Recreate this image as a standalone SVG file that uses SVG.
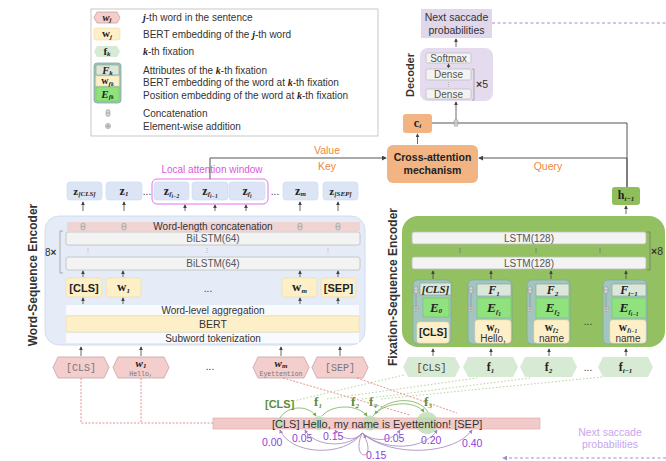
<svg xmlns="http://www.w3.org/2000/svg" width="666" height="461" viewBox="0 0 666 461" font-size="10">
<defs>
<style>
.t{font-family:"Liberation Sans",Arial,sans-serif;fill:#333}
.c{text-anchor:middle}
.b{font-weight:bold}
.m{font-family:"Liberation Serif","Times New Roman",serif;font-weight:bold;fill:#222}
.mi{font-family:"Liberation Serif","Times New Roman",serif;font-weight:bold;font-style:italic;fill:#222}
.s{font-size:7px;font-style:italic}
.ss{font-size:5.5px;font-style:italic}
.mono{font-family:"Liberation Mono","Courier New",monospace;fill:#777}
.arr{stroke:#444;stroke-width:0.8;fill:none;marker-end:url(#ah)}
.ln{stroke:#555;stroke-width:1;fill:none}
.bar{fill:#f3f3f3;stroke:#bdbdbd;stroke-width:0.8}
.yel{fill:#fdf0c9;stroke:#eadcaa;stroke-width:0.6}
.zb{fill:#dce5f5;stroke:#cdd9ee;stroke-width:0.6}
.ph{fill:#f4cdcd;stroke:#c6a3a3;stroke-width:0.8}
.gh{fill:#d7ead3}
.blk{fill:#a2c6bf;stroke:#7fa9a0;stroke-width:0.8}
.fb{fill:#dae7d9;stroke:#8a9a8a;stroke-width:0.6}
.eb{fill:#8fe27e;stroke:#6cbf5c;stroke-width:0.5}
.or{fill:#f2b482}
.pur{font-family:"Liberation Sans",Arial,sans-serif;fill:#8d3fd6}
.grn{fill:#5b8d35}
.ora{font-family:"Liberation Sans",Arial,sans-serif;fill:#f0883e}
.rd{stroke:#e37474;stroke-width:0.8;stroke-dasharray:2 1.5;fill:none}
.gd{stroke:#a9cf8e;stroke-width:0.9;stroke-dasharray:1.5 2;fill:none}
.pa{stroke:#a185bd;stroke-width:0.8;fill:none;marker-end:url(#ahp)}
.ga{stroke:#79ad58;stroke-width:0.8;fill:none;marker-end:url(#ahg)}
.pd{stroke:#a88cc6;stroke-width:1;stroke-dasharray:3 2.5;fill:none}
</style>
<marker id="ah" viewBox="0 0 6 6" refX="5" refY="3" markerWidth="4" markerHeight="4" markerUnits="userSpaceOnUse" orient="auto"><path d="M0,0 L6,3 L0,6 z" fill="#444"/></marker>
<marker id="ahb" viewBox="0 0 6 6" refX="5" refY="3" markerWidth="5" markerHeight="5" markerUnits="userSpaceOnUse" orient="auto"><path d="M0,0 L6,3 L0,6 z" fill="#444"/></marker>
<marker id="ahp" viewBox="0 0 6 6" refX="5" refY="3" markerWidth="4" markerHeight="4" markerUnits="userSpaceOnUse" orient="auto"><path d="M0,0 L6,3 L0,6 z" fill="#a185bd"/></marker>
<marker id="ahg" viewBox="0 0 6 6" refX="5" refY="3" markerWidth="4" markerHeight="4" markerUnits="userSpaceOnUse" orient="auto"><path d="M0,0 L6,3 L0,6 z" fill="#79ad58"/></marker>
<marker id="ahd" viewBox="0 0 6 6" refX="5" refY="3" markerWidth="5" markerHeight="5" markerUnits="userSpaceOnUse" orient="auto"><path d="M0,0 L6,3 L0,6 z" fill="#a88cc6"/></marker>
<g id="cat"><rect x="-2" y="-3.5" width="4" height="7" rx="2" fill="#d4d4d4" stroke="#888" stroke-width="0.5"/><line x1="-2" x2="2" y1="0" y2="0" stroke="#888" stroke-width="0.5"/></g>
<g id="add"><circle r="2.6" fill="#e4e4e4" stroke="#888" stroke-width="0.5"/><path d="M-2,0H2M0,-2V2" stroke="#777" stroke-width="0.6"/></g>
</defs>
<rect width="666" height="461" fill="#fff"/>

<!-- Legend -->
<g id="legend">
<rect x="91" y="9" width="287" height="127" fill="#fff" stroke="#bbb" stroke-width="0.8"/>
<polygon class="ph" points="97,12 117,12 120,17.5 117,23 97,23 94,17.5"/>
<text x="107" y="20.5" class="mi c" font-size="10.5">w<tspan class="s" dy="1.5">j</tspan></text>
<text x="143" y="21" class="t"><tspan class="mi">j</tspan>-th word in the sentence</text>
<rect x="94" y="28" width="26" height="12" rx="2" class="yel"/>
<text x="107" y="37" class="m c" font-size="11">w<tspan class="s" dy="1.5">j</tspan></text>
<text x="143" y="38" class="t">BERT embedding of the <tspan class="mi">j</tspan>-th word</text>
<polygon class="gh" points="97,46 117,46 120,51.5 117,57 97,57 94,51.5"/>
<text x="107" y="54.5" class="m c" font-size="11">f<tspan class="s" dy="1.5">k</tspan></text>
<text x="143" y="55" class="t"><tspan class="mi">k</tspan>-th fixation</text>
<rect x="94" y="63" width="27" height="40" rx="3" class="blk"/>
<rect x="96" y="65" width="23" height="10" class="fb"/>
<text x="107.5" y="73.5" class="mi c" font-size="10.5">F<tspan class="s" dy="1">k</tspan></text>
<rect x="96" y="76" width="23" height="10" class="yel"/>
<text x="107.5" y="84" class="m c" font-size="10">w<tspan class="s" dy="1.5">f<tspan class="ss">k</tspan></tspan></text>
<rect x="96" y="87" width="23" height="14" class="eb"/>
<text x="107.5" y="97.5" class="mi c" font-size="11">E<tspan class="s" dy="1.5">f<tspan class="ss">k</tspan></tspan></text>
<text x="143" y="73.5" class="t">Attributes of the <tspan class="mi">k</tspan>-th fixation</text>
<text x="143" y="85.5" class="t">BERT embedding of the word at <tspan class="mi">k</tspan>-th fixation</text>
<text x="143" y="99" class="t">Position embedding of the word at <tspan class="mi">k</tspan>-th fixation</text>
<use href="#cat" x="108" y="113"/>
<text x="143" y="117" class="t">Concatenation</text>
<use href="#add" x="108" y="126"/>
<text x="143" y="130" class="t">Element-wise addition</text>
</g>

<!-- Decoder -->
<g id="next-top">
<rect x="421" y="9" width="71" height="29" fill="#e0d7ea"/>
<text x="456.5" y="21" class="t c" font-size="10.5">Next saccade</text>
<text x="456.5" y="34" class="t c" font-size="10.5">probabilities</text>
</g>
<g id="decoder">
<rect x="420" y="48" width="73" height="53" rx="8" fill="#e4dcee"/>
<rect x="426" y="53" width="45" height="10" rx="1.5" class="bar"/>
<text x="448.5" y="61.5" class="t c" style="fill:#555">Softmax</text>
<rect x="426" y="69" width="45" height="11" rx="1.5" class="bar"/>
<text x="448.5" y="78" class="t c" style="fill:#555">Dense</text>
<line x1="448.5" y1="82" x2="448.5" y2="87" stroke="#aaa" stroke-width="0.8" stroke-dasharray="1 1"/>
<rect x="426" y="89" width="45" height="10" rx="1.5" class="bar"/>
<text x="448.5" y="97.5" class="t c" style="fill:#555">Dense</text>
<path d="M472,69 H474 V100 H472" stroke="#999" stroke-width="0.8" fill="none"/>
<text x="476" y="88" class="t" font-size="10.5"><tspan class="b">×</tspan>5</text>
<text transform="translate(414,75) rotate(-90)" class="t b c" font-size="11">Decoder</text>
</g>
<g id="ci">
<rect x="403" y="114" width="29" height="19" rx="3" class="or"/>
<text x="417.5" y="126.5" class="m c" font-size="12">c<tspan class="s" dy="1.5">i</tspan></text>
</g>
<g id="cross-attention">
<rect x="387" y="145" width="91" height="38" rx="6" class="or"/>
<text x="432.5" y="160.5" class="t b c" font-size="10.5" style="fill:#222">Cross-attention</text>
<text x="432.5" y="174" class="t b c" font-size="10.5" style="fill:#222">mechanism</text>
</g>
<g id="h">
<rect x="612" y="187" width="28" height="18" rx="3" fill="#8fbf5a"/>
<text x="626" y="199" class="m c" font-size="12">h<tspan class="s" dy="1.5">i−1</tspan></text>
</g>

<!-- Word-sequence encoder -->
<g id="z-outputs">
<rect x="67" y="182" width="35" height="18" rx="3" class="zb"/>
<text x="84.5" y="194.5" class="m c" font-size="11">z<tspan class="s" dy="1.5">[CLS]</tspan></text>
<rect x="106" y="182" width="36" height="18" rx="3" class="zb"/>
<text x="124" y="194.5" class="m c" font-size="12">z<tspan class="s" dy="1.5">1</tspan></text>
<text x="147" y="195" class="t c">...</text>
<rect x="154" y="182" width="35" height="18" rx="3" class="zb"/>
<text x="171.5" y="194.5" class="m c" font-size="12">z<tspan class="s" dy="1.5">f</tspan><tspan class="ss" dy="1.5">i−2</tspan></text>
<rect x="192" y="182" width="36" height="18" rx="3" class="zb"/>
<text x="210" y="194.5" class="m c" font-size="12">z<tspan class="s" dy="1.5">f</tspan><tspan class="ss" dy="1.5">i−1</tspan></text>
<rect x="229" y="182" width="36" height="18" rx="3" class="zb"/>
<text x="247" y="194.5" class="m c" font-size="12">z<tspan class="s" dy="1.5">f</tspan><tspan class="ss" dy="1.5">i</tspan></text>
<text x="275" y="195" class="t c">...</text>
<rect x="283" y="182" width="35" height="18" rx="3" class="zb"/>
<text x="300.5" y="194.5" class="m c" font-size="12">z<tspan class="s" dy="1.5">m</tspan></text>
<rect x="323" y="182" width="35" height="18" rx="3" class="zb"/>
<text x="340.5" y="194.5" class="m c" font-size="11">z<tspan class="s" dy="1.5">[SEP]</tspan></text>
</g>
<g id="local-window">
<rect x="152" y="179" width="116" height="25" rx="5" fill="none" stroke="#e873e8" stroke-width="1"/>
<text x="212" y="173" class="t c" style="fill:#e055e0">Local attention window</text>
</g>
<g id="word-encoder">
<rect x="45" y="216" width="320" height="129" rx="14" fill="#e5ebf7" stroke="#ccd7ec" stroke-width="0.8"/>
<rect x="67" y="222" width="293" height="9" fill="#f0d4d4"/>
<text x="213" y="230" class="t c">Word-length concatenation</text>
<use href="#cat" x="83" y="226.5"/><use href="#cat" x="124" y="226.5"/><use href="#cat" x="300" y="226.5"/><use href="#cat" x="338" y="226.5"/>
<rect x="66" y="232" width="294" height="13" rx="2" class="bar"/>
<text x="213" y="242" class="t c" style="fill:#555">BiLSTM(64)</text>
<g stroke="#aaa" stroke-width="0.8" stroke-dasharray="1 1"><line x1="88" y1="248" x2="88" y2="254"/><line x1="207" y1="248" x2="207" y2="254"/><line x1="328" y1="248" x2="328" y2="254"/></g>
<rect x="66" y="257" width="294" height="13" rx="2" class="bar"/>
<text x="213" y="267" class="t c" style="fill:#555">BiLSTM(64)</text>
<path d="M63,231 H60 V273 H63" stroke="#999" stroke-width="0.8" fill="none"/>
<text x="45" y="256" class="t">8<tspan class="b">×</tspan></text>
<rect x="66" y="278" width="36" height="19" rx="3" class="yel"/>
<text x="84" y="291.5" class="t b c" font-size="11" style="fill:#222">[CLS]</text>
<rect x="106" y="278" width="35" height="19" rx="3" class="yel"/>
<text x="123.5" y="291" class="m c" font-size="13">w<tspan class="s" dy="1.5">1</tspan></text>
<text x="208" y="292" class="t c">...</text>
<rect x="282" y="278" width="35" height="19" rx="3" class="yel"/>
<text x="299.5" y="291" class="m c" font-size="13">w<tspan class="s" dy="1.5">m</tspan></text>
<rect x="321" y="278" width="35" height="19" rx="3" class="yel"/>
<text x="338.5" y="291.5" class="t b c" font-size="11" style="fill:#222">[SEP]</text>
<rect x="66" y="305" width="293" height="10" fill="#f9fafd"/>
<text x="213" y="313.5" class="t c">Word-level aggregation</text>
<rect x="66" y="316" width="293" height="16" class="yel"/>
<text x="213" y="328" class="t c" font-size="10.5">BERT</text>
<rect x="66" y="333" width="293" height="10" fill="#f9fafd"/>
<text x="213" y="341.5" class="t c">Subword tokenization</text>
<text transform="translate(37,275) rotate(-90)" class="t b c" font-size="12">Word-Sequence Encoder</text>
</g>
<g id="word-inputs">
<polygon class="ph" points="58,357 104,357 109,367.5 104,378 58,378 53,367.5"/>
<text x="81" y="371" class="mono c" font-size="10">[CLS]</text>
<polygon class="ph" points="118,357 164,357 169,367.5 164,378 118,378 113,367.5"/>
<text x="141" y="367" class="mi c" font-size="11">w<tspan class="s" dy="1">1</tspan></text>
<text x="141" y="375.5" class="mono c" font-size="6.5">Hello,</text>
<text x="210" y="370" class="t c">...</text>
<polygon class="ph" points="258,357 304,357 309,367.5 304,378 258,378 253,367.5"/>
<text x="281" y="367" class="mi c" font-size="11">w<tspan class="s" dy="1">m</tspan></text>
<text x="281" y="375.5" class="mono c" font-size="6.5">Eyettention</text>
<polygon class="ph" points="317,357 363,357 368,367.5 363,378 317,378 312,367.5"/>
<text x="340" y="371" class="mono c" font-size="10">[SEP]</text>
</g>

<!-- Fixation-sequence encoder -->
<g id="fix-encoder">
<rect x="402" y="216" width="263" height="131" rx="16" fill="#93c060"/>
<rect x="412" y="232" width="234" height="12" rx="2" class="bar"/>
<text x="529" y="241.5" class="t c" style="fill:#555">LSTM(128)</text>
<g stroke="#777" stroke-width="0.8"><line x1="460" y1="248" x2="460" y2="253"/><line x1="536" y1="248" x2="536" y2="253"/><line x1="600" y1="248" x2="600" y2="253"/></g>
<rect x="412" y="257" width="234" height="12" rx="2" class="bar"/>
<text x="529" y="266.5" class="t c" style="fill:#555">LSTM(128)</text>
<path d="M647,232 H650 V270 H647" stroke="#777" stroke-width="0.8" fill="none"/>
<text x="651" y="255" class="t" font-size="10.5"><tspan class="b">×</tspan>8</text>
<text transform="translate(397,287) rotate(-90)" class="t b c" font-size="12">Fixation-Sequence Encoder</text>
</g>
<g id="fix-block-0">
<rect x="413" y="280" width="38" height="64" rx="5" class="blk"/>
<rect x="420" y="283" width="31" height="12" class="fb"/>
<text x="435.5" y="293" class="mi c" font-size="11">[CLS]</text>
<rect x="423" y="298" width="26" height="19" class="eb"/>
<text x="436" y="311.5" class="mi c" font-size="13">E<tspan class="s" dy="1.5">0</tspan></text>
<rect x="417" y="322" width="32" height="21" rx="3" class="yel"/>
<text x="433" y="336" class="t b c" font-size="10.5" style="fill:#222">[CLS]</text>
<line x1="416" y1="290" x2="416" y2="309" stroke="#888" stroke-width="0.6"/>
<use href="#cat" x="416" y="290"/><use href="#add" x="416" y="309"/>
</g>
<g id="fix-block-1">
<rect x="468" y="280" width="44" height="64" rx="5" class="blk"/>
<rect x="477" y="284" width="34" height="12" class="fb"/>
<text x="494" y="294" class="mi c" font-size="12">F<tspan class="s" dy="1.5">1</tspan></text>
<rect x="477" y="298" width="34" height="20" class="eb"/>
<text x="494" y="312" class="mi c" font-size="13.5">E<tspan class="s" dy="2">f</tspan><tspan class="ss" dy="1.5">1</tspan></text>
<rect x="475" y="320" width="36" height="23" rx="3" class="yel"/>
<text x="493" y="330.5" class="m c" font-size="11.5">w<tspan class="s" dy="1.5">f</tspan><tspan class="ss" dy="1">1</tspan></text>
<text x="493" y="341.5" class="t c" font-size="10">Hello,</text>
<line x1="471" y1="290" x2="471" y2="309" stroke="#888" stroke-width="0.6"/>
<use href="#cat" x="471" y="290"/><use href="#add" x="471" y="309"/>
</g>
<g id="fix-block-2">
<rect x="527" y="280" width="43" height="64" rx="5" class="blk"/>
<rect x="536" y="284" width="33" height="12" class="fb"/>
<text x="552.5" y="294" class="mi c" font-size="12">F<tspan class="s" dy="1.5">2</tspan></text>
<rect x="536" y="298" width="33" height="20" class="eb"/>
<text x="552.5" y="312" class="mi c" font-size="13.5">E<tspan class="s" dy="2">f</tspan><tspan class="ss" dy="1.5">2</tspan></text>
<rect x="534" y="320" width="35" height="23" rx="3" class="yel"/>
<text x="551.5" y="330.5" class="m c" font-size="11.5">w<tspan class="s" dy="1.5">f</tspan><tspan class="ss" dy="1">2</tspan></text>
<text x="551.5" y="341.5" class="t c" font-size="10">name</text>
<line x1="530" y1="290" x2="530" y2="309" stroke="#888" stroke-width="0.6"/>
<use href="#cat" x="530" y="290"/><use href="#add" x="530" y="309"/>
</g>
<text x="588" y="325" class="t c">...</text>
<g id="fix-block-3">
<rect x="603" y="280" width="44" height="64" rx="5" class="blk"/>
<rect x="612" y="284" width="34" height="12" class="fb"/>
<text x="629" y="294" class="mi c" font-size="12">F<tspan class="s" dy="1.5">i−1</tspan></text>
<rect x="612" y="298" width="34" height="20" class="eb"/>
<text x="629" y="312" class="mi c" font-size="13.5">E<tspan class="s" dy="2">f</tspan><tspan class="ss" dy="1.5">i−1</tspan></text>
<rect x="610" y="320" width="36" height="23" rx="3" class="yel"/>
<text x="628" y="330.5" class="m c" font-size="11.5">w<tspan class="s" dy="1.5">f</tspan><tspan class="ss" dy="1">i−1</tspan></text>
<text x="628" y="341.5" class="t c" font-size="10">name</text>
<line x1="606" y1="290" x2="606" y2="309" stroke="#888" stroke-width="0.6"/>
<use href="#cat" x="606" y="290"/><use href="#add" x="606" y="309"/>
</g>
<g id="fix-inputs">
<polygon class="gh" points="408,357 455,357 460,367 455,377 408,377 403,367"/>
<text x="431.5" y="370.5" class="mono c" font-size="10" style="fill:#444">[CLS]</text>
<polygon class="gh" points="468,357 513,357 518,367 513,377 468,377 463,367"/>
<text x="490.5" y="371" class="m c" font-size="12">f<tspan class="s" dy="1.5">1</tspan></text>
<polygon class="gh" points="525,357 572,357 577,367 572,377 525,377 520,367"/>
<text x="548.5" y="371" class="m c" font-size="12">f<tspan class="s" dy="1.5">2</tspan></text>
<text x="588" y="371" class="t c">...</text>
<polygon class="gh" points="603,357 648,357 653,367 648,377 603,377 598,367"/>
<text x="625.5" y="371" class="m c" font-size="12">f<tspan class="s" dy="1.5">i−1</tspan></text>
</g>

<!-- Sentence -->
<g id="sentence">
<rect x="213" y="418" width="327" height="11" fill="#f2caca" stroke="#dea3a3" stroke-width="0.6"/>
<g fill="#b9dcae" opacity="0.75"><circle cx="280" cy="423" r="5"/><circle cx="319" cy="423" r="7"/><circle cx="370" cy="423" r="7.5"/><circle cx="427" cy="423" r="11"/></g>
<text x="272" y="427.5" class="t" font-size="11">[CLS] Hello, my name is Eyettention! [SEP]</text>
</g>
<g id="fixation-labels">
<text x="265" y="408" class="t b grn" font-size="11">[CLS]</text>
<text x="318" y="406" class="m c grn" font-size="13">f<tspan class="s" dy="1.5">1</tspan></text>
<text x="355" y="406" class="m c grn" font-size="13">f<tspan class="s" dy="1.5">2</tspan></text>
<text x="373" y="406" class="m c grn" font-size="13">f<tspan class="s" dy="1.5">4</tspan></text>
<text x="428" y="406" class="m c grn" font-size="13">f<tspan class="s" dy="1.5">3</tspan></text>
</g>
<g id="prob-labels" class="pur" font-size="10.5">
<text x="262" y="446">0.00</text>
<text x="292" y="442">0.05</text>
<text x="323" y="440">0.15</text>
<text x="366" y="459">0.15</text>
<text x="384" y="442">0.05</text>
<text x="421" y="444">0.20</text>
<text x="462" y="447">0.40</text>
</g>
<g id="next-bottom">
<text x="610" y="436" class="t c" font-size="10.5" style="fill:#c8a6ee">Next saccade</text>
<text x="610" y="448" class="t c" font-size="10.5" style="fill:#c8a6ee">probabilities</text>
</g>

<!-- Connectors -->
<g id="connectors">
<line x1="456" y1="47" x2="456" y2="39" class="arr"/>
<line x1="448.5" y1="68" x2="448.5" y2="64" class="arr"/>
<path d="M627,187 V123 H432" class="ln" stroke="#666"/>
<line x1="456" y1="123" x2="456" y2="102" class="arr" marker-end="url(#ahb)"/>
<use href="#cat" x="456" y="123"/>
<line x1="417.5" y1="144" x2="417.5" y2="134" class="arr"/>
<path d="M210,179 V158 H386" class="ln" marker-end="url(#ahb)"/>
<path d="M627,187 V158 H479" class="ln" marker-end="url(#ahb)"/>
<text x="327" y="154" class="ora c" font-size="10.5">Value</text>
<text x="327" y="170" class="ora c" font-size="10.5">Key</text>
<text x="548" y="170" class="ora c" font-size="10.5">Query</text>
<path d="M492,23 H666" class="pd"/>
<path d="M666,458 H503" class="pd" marker-end="url(#ahd)"/>
<g class="arr">
<line x1="83" y1="211" x2="83" y2="202"/><line x1="124" y1="211" x2="124" y2="202"/><line x1="185" y1="211" x2="185" y2="205"/><line x1="215" y1="211" x2="215" y2="205"/><line x1="246" y1="211" x2="246" y2="205"/><line x1="300" y1="211" x2="300" y2="202"/><line x1="338" y1="211" x2="338" y2="202"/>
<line x1="83" y1="277" x2="83" y2="271"/><line x1="123" y1="277" x2="123" y2="271"/><line x1="300" y1="277" x2="300" y2="271"/><line x1="338" y1="277" x2="338" y2="271"/>
<line x1="83" y1="304" x2="83" y2="298"/><line x1="123" y1="304" x2="123" y2="298"/><line x1="300" y1="304" x2="300" y2="298"/><line x1="338" y1="304" x2="338" y2="298"/>
<line x1="81" y1="356" x2="81" y2="347"/><line x1="141" y1="356" x2="141" y2="347"/><line x1="281" y1="356" x2="281" y2="347"/><line x1="340" y1="356" x2="340" y2="347"/>
<line x1="433" y1="356" x2="433" y2="349"/><line x1="491" y1="356" x2="491" y2="349"/><line x1="549" y1="356" x2="549" y2="349"/><line x1="626" y1="356" x2="626" y2="349"/>
<line x1="433" y1="279" x2="433" y2="271"/><line x1="491" y1="279" x2="491" y2="271"/><line x1="551" y1="279" x2="551" y2="271"/><line x1="626" y1="279" x2="626" y2="271"/>
<line x1="626" y1="214" x2="626" y2="206"/>
</g>
<path d="M81,378 V423 H213" class="rd"/>
<path d="M141,378 V423" class="rd"/>
<path d="M283,378 L410,415" class="rd"/>
<path d="M357,378 L457,413" class="rd"/>
<path d="M293,401 L404,375" class="gd"/>
<path d="M327,399 L477,378" class="gd"/>
<path d="M362,399 L530,378" class="gd"/>
<path d="M381,399 L602,377" class="gd"/>
<path d="M280,418 C288,405 308,405 316,416" class="ga"/>
<path d="M322,416 C332,404 358,404 367,416" class="ga"/>
<path d="M373,416 C385,401 415,400 424,412" class="ga"/>
<path d="M428,412 C418,396 388,397 375,414" class="ga"/>
<path d="M362,433 C345,458 290,455 280,430" class="pa"/>
<path d="M362,433 C350,448 315,448 305,430" class="pa"/>
<path d="M362,433 C355,442 342,440 335,430" class="pa"/>
<path d="M362,433 C350,462 378,462 364,435" class="pa"/>
<path d="M362,433 C375,443 393,441 400,430" class="pa"/>
<path d="M362,433 C385,452 425,450 437,430" class="pa"/>
<path d="M362,433 C390,458 455,455 472,430" class="pa"/>
</g>
</svg>
